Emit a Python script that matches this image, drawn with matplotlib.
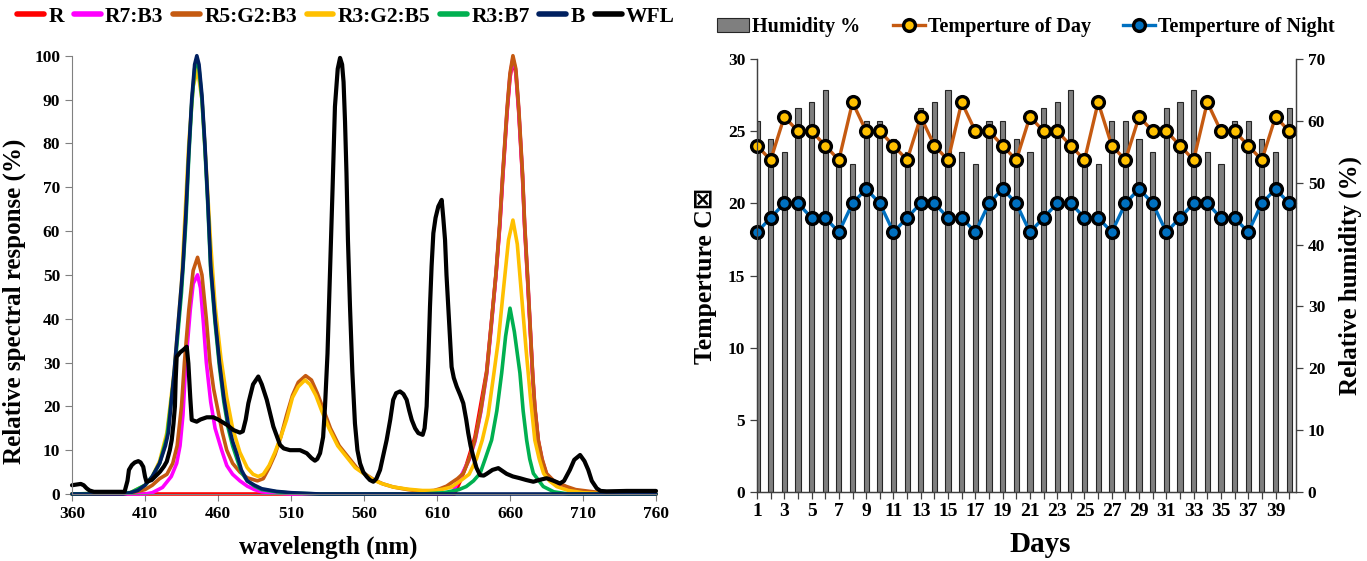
import matplotlib
matplotlib.use("Agg")
import matplotlib.pyplot as plt
from matplotlib.transforms import ScaledTranslation

plt.rcParams['font.family'] = ['Liberation Serif', 'DejaVu Sans']
plt.rcParams['font.weight'] = 'bold'

# ---------------- Left chart: spectra ----------------
wl_R = [360, 622, 626, 630, 636, 644, 650.4, 653, 655, 658, 660, 662, 664, 666, 668.6, 670, 672, 675.5, 677, 679.4, 682, 685, 690, 698.8, 705, 717, 730, 760]
val_R = [0, 0, 3, 6.5, 13, 28, 50, 61, 72, 87, 95, 99, 96, 87, 72, 61, 49, 27, 19.5, 12, 7.5, 4.5, 2.8, 1.5, 0.8, 0.3, 0, 0]

wl_R7B3 = [360, 410, 415, 422, 428, 431.7, 434, 436, 438, 441, 443, 446, 448, 450, 452, 455, 458, 462.5, 466, 470, 475, 480, 485, 490, 500, 510, 620,
           626, 632, 636, 640, 644, 647, 650.4, 653, 655, 658, 660, 662, 664, 666, 668.6, 670, 672, 675.5, 677, 679.4, 682, 685, 690, 700, 720, 760]
val_R7B3 = [0, 0, 0.3, 1.5, 4, 7, 11, 18, 30, 42, 48, 50, 47, 39, 30, 21, 15, 10, 6.5, 4.5, 3, 1.8, 1, 0.5, 0.2, 0, 0,
            3.8, 7.8, 12, 18.7, 27.3, 37.6, 50, 61.5, 72.5, 87.5, 95.5, 99.4, 96.5, 87.5, 72.5, 61.5, 49.6, 27.3, 19.7, 12, 7.8, 4.5, 2.8, 1.1, 0, 0]

wl_R5G2B3 = [360, 400, 410, 415, 420, 425, 429, 432, 435, 437, 440, 443, 446, 449, 452, 454.5, 457, 460, 463, 466, 470, 475, 480, 487, 491, 495, 499, 503, 507, 511, 515, 520, 524, 528, 532, 537, 543, 549, 555, 561, 567, 573, 580, 590, 600,
             608, 612, 616.6, 620, 624, 628, 632, 636, 640, 644, 647, 650.4, 653, 655, 658, 660, 662, 664, 666, 668.6, 670, 672, 675.5, 677, 679.4, 682, 685, 690, 698.8, 705, 717, 730, 760]
val_R5G2B3 = [0, 0.2, 1, 2, 3.5, 4.5, 7, 11, 20, 30, 42, 51, 54, 50, 40, 30, 24, 19, 14, 10, 7, 5, 3.7, 3, 3.5, 6, 9, 13, 18, 22.5, 25.5, 27, 26, 23, 19.5, 15, 11, 8.5, 6, 4.5, 3.2, 2.3, 1.6, 1, 0.6,
              0.8, 1.2, 1.8, 2.6, 3.5, 4.7, 8, 12.3, 19, 27.6, 38, 50.4, 62, 73, 88, 96, 100, 97, 88, 73, 62, 50, 27.6, 20, 12.3, 8, 4.7, 3, 1.7, 1, 0.5, 0, 0]

wl_R3G2B5 = [360, 400, 410, 415, 420, 425, 430, 435, 440, 443, 446, 449, 452, 455, 458, 462, 466, 470, 475, 480, 484, 487.5, 491, 495, 499, 503, 507, 511, 515, 519.6, 523, 527, 531, 536, 542, 548, 554, 560, 566, 572, 580, 590, 600,
             608, 614, 620, 626, 632, 637, 641, 645, 649, 652, 655, 659, 662, 665, 668, 671, 674, 677, 680, 683, 687, 692, 700, 710, 730, 760]
val_R3G2B5 = [0, 0.3, 2, 4, 7.5, 14, 28, 48, 80, 93, 97, 90, 74, 57, 43, 31, 22, 15, 9.5, 6, 4.5, 4, 4.5, 6.5, 9.5, 13, 17, 22, 24.5, 26, 25, 22.5, 19, 15, 11, 8.5, 6, 4.6, 3.3, 2.4, 1.6, 1.1, 0.8,
              0.8, 1.1, 1.6, 3, 4.5, 8, 12.3, 18, 27.6, 35, 45, 58, 62.5, 57, 45, 33, 22, 12.3, 8, 4.7, 3, 1.7, 0.8, 0.3, 0, 0]

wl_R3B7 = [360, 400, 410, 415, 420, 425, 430, 435, 438, 440, 442, 444, 445.5, 447, 449, 451, 453, 455, 458, 461, 464, 467, 470, 473, 476, 480, 485, 490, 500, 510, 530, 600,
           615, 625, 630, 635, 639.5, 643, 647.4, 651, 654.3, 657, 660, 663, 666.8, 669, 671.4, 673.5, 676, 682.8, 690, 700, 760]
val_R3B7 = [0, 0.3, 2, 4, 7, 13, 27, 46, 62, 77, 89, 97, 99, 97, 90, 79, 66, 51, 39, 29, 21, 15, 11, 8, 5, 3, 1.8, 1, 0.5, 0.2, 0, 0,
            0.3, 1, 1.7, 3, 4.7, 8, 12.3, 19, 27.6, 36, 42.4, 37, 27.6, 19, 12.3, 8, 4.7, 1.7, 0.5, 0, 0]

wl_B = [360, 395, 400, 405, 410, 415, 420, 424, 426, 428, 430, 432, 434, 436, 438, 440, 442, 444, 445.5, 447, 449, 451, 453, 455, 458, 461, 464, 467, 470, 473, 476, 480, 485, 490, 500, 510, 530, 760]
val_B = [0, 0, 0.3, 0.8, 2, 4, 7, 11, 14, 21, 28, 36, 44, 52, 64, 78, 90, 98, 100, 98, 91, 80, 67, 52, 40, 30, 22, 16, 12, 9, 5.5, 3, 2, 1.2, 0.6, 0.3, 0, 0]

wl_WFL = [360, 362, 366, 368, 370, 372, 375, 385, 396, 398, 399, 401, 403, 405.4, 407, 408.8, 410, 411, 413, 414.6, 417, 420.3, 423, 424.9, 427, 428.3, 429.5, 430.5, 431, 431.7, 434, 436.3, 438.6, 439.7, 441, 442, 445.4, 448, 452.3, 456.8, 460, 466, 470.5, 475, 477, 479, 480.8, 484, 487.6, 490, 493.4, 497.9, 502.5, 505, 509.3, 516.2, 520.8, 524, 526.4, 528, 529.9, 532, 533.3, 535, 536.7, 538.5, 540.1, 542, 543.6, 545, 546, 547, 548, 549, 550.4, 552, 553.8, 555.5, 557.3, 559.5, 561.8, 564, 566.4, 568.5, 571, 573, 575.5, 578, 580, 582, 584.7, 587, 589.2, 591, 592.7, 595, 597.2, 600.2, 601.5, 602.9, 604, 605.2, 606.3, 607.5, 609, 610.9, 613.2, 614.3, 615.5, 616.5, 617.7, 619, 620, 621.5, 623.5, 626, 628, 630, 631.4, 633, 634.9, 637, 639.5, 642, 644, 648, 652, 655, 657.7, 662, 666.8, 671, 676, 680, 685.1, 690, 694.2, 697, 701, 704, 708, 711, 713.6, 716, 719.4, 722, 726.2, 740, 760]
val_WFL = [2, 2.1, 2.3, 2, 1.3, 0.8, 0.5, 0.5, 0.5, 3, 5.5, 6.6, 7.2, 7.5, 7.2, 6.2, 4, 2.8, 3, 3.2, 4, 5.1, 6.3, 7.4, 10, 12.3, 16, 20, 26, 31.3, 32.3, 32.9, 33.6, 29.8, 22, 16.9, 16.5, 17, 17.5, 17.5, 17, 15.8, 14.6, 14, 14.3, 17, 20.7, 25, 26.8, 25, 21.5, 15.4, 11.2, 10.4, 10, 10, 9.3, 8.2, 7.6, 8, 9.3, 13, 20, 32, 50.4, 70, 88.4, 97, 99.5, 98, 94, 85, 73.2, 58, 42.8, 28, 16.1, 10, 7, 5, 4, 3.2, 2.8, 3.5, 5.5, 8.5, 12.3, 17, 21.5, 23, 23.4, 22.8, 21.5, 19, 16.9, 15, 13.9, 13.5, 15, 20, 30, 42.8, 52, 59.5, 63, 65.6, 67.1, 63, 58, 50, 42.8, 35, 29, 26.5, 24.5, 22.5, 20.7, 17, 13.9, 11, 8.5, 6, 4.3, 4.2, 4.6, 5.5, 5.9, 5.2, 4.6, 4, 3.6, 3.2, 2.8, 3.2, 3.6, 3, 2.4, 3, 5.5, 7.8, 8.9, 7.5, 5.5, 3, 1.3, 0.7, 0.6, 0.7, 0.7]

spec_names = ['R', 'R7:B3', 'R5:G2:B3', 'R3:G2:B5', 'R3:B7', 'B', 'WFL']
spec_colors = ['#FF0000', '#FF00FF', '#C55A11', '#FFC000', '#00B050', '#002060', '#000000']
spec_x = [wl_R, wl_R7B3, wl_R5G2B3, wl_R3G2B5, wl_R3B7, wl_B, wl_WFL]
spec_y = [val_R, val_R7B3, val_R5G2B3, val_R3G2B5, val_R3B7, val_B, val_WFL]
wl_ticks = [360, 410, 460, 510, 560, 610, 660, 710, 760]

# ---------------- Right chart: climate ----------------
days = list(range(1, 41))
humidity = [60, 57, 55, 62, 63, 65, 53, 53, 60, 60, 57, 55, 62, 63, 65, 55, 53, 60, 60, 57,
            55, 62, 63, 65, 53, 53, 60, 60, 57, 55, 62, 63, 65, 55, 53, 60, 60, 57, 55, 62]
temp_day = [24, 23, 26, 25, 25, 24, 23, 27, 25, 25, 24, 23, 26, 24, 23, 27, 25, 25, 24, 23,
            26, 25, 25, 24, 23, 27, 24, 23, 26, 25, 25, 24, 23, 27, 25, 25, 24, 23, 26, 25]
temp_night = [18, 19, 20, 20, 19, 19, 18, 20, 21, 20, 18, 19, 20, 20, 19, 19, 18, 20, 21, 20,
              18, 19, 20, 20, 19, 19, 18, 20, 21, 20, 18, 19, 20, 20, 19, 19, 18, 20, 21, 20]

W, H = 1367, 561
fig = plt.figure(figsize=(W / 100, H / 100), dpi=100)

# ----- left axes -----
axL = fig.add_axes([72 / W, 1 - 494 / H, (656 - 72) / W, (494 - 55.7) / H])
for x, y, c, n in zip(spec_x, spec_y, spec_colors, spec_names):
    axL.plot(x, y, color=c, lw=3.0 if n == 'WFL' else 2.6, label=n,
             solid_joinstyle='round', solid_capstyle='round', clip_on=False)
axL.set_xlim(360, 760)
axL.set_ylim(0, 100)
axL.set_xticks(wl_ticks)
axL.set_yticks(range(0, 101, 10))
for s in ['top', 'right']:
    axL.spines[s].set_visible(False)
for s in ['left', 'bottom']:
    axL.spines[s].set_color('#808080')
    axL.spines[s].set_linewidth(0.8)
axL.tick_params(axis='both', direction='out', length=5, width=0.8, color='#808080',
                labelsize=12.5)
axL.set_ylabel('Relative spectral response (%)', fontsize=18, fontweight='bold')
axL.yaxis.set_label_coords(-0.078, 0.44)
fig.text(328 / W, 1 - 554 / H, 'wavelength (nm)', fontsize=18, fontweight='bold',
         ha='center', va='baseline')
fig.legend(*axL.get_legend_handles_labels(), loc='center', bbox_to_anchor=(346 / W, 1 - 17 / H),
           ncol=7, frameon=False, fontsize=15.5, handlelength=1.25, handletextpad=0.2,
           columnspacing=0.45, borderaxespad=0, borderpad=0)
for ln in fig.legends[0].get_lines():
    ln.set_linewidth(4)

# ----- right axes -----
ax1 = fig.add_axes([757 / W, 1 - 492 / H, (1296 - 757) / W, (492 - 59) / H])
ax2 = ax1.twinx()
ax1.set_zorder(3)
ax2.set_zorder(2)
ax1.patch.set_visible(False)

ax2.bar(days, humidity, width=0.38, color='#7F7F7F', edgecolor='#262626', linewidth=0.8,
        label='Humidity %')
ax1.plot(days, temp_day, color='#C55A11', lw=2.4, marker='o', ms=8.5, mfc='#FFC000',
         mec='black', mew=2.4, label='Temperture of Day', clip_on=False)
ax1.plot(days, temp_night, color='#0070C0', lw=2.4, marker='o', ms=8.5, mfc='#0070C0',
         mec='black', mew=2.4, label='Temperture of Night', clip_on=False)

ax1.set_xlim(1, 40.5)
ax1.set_ylim(0, 30)
ax2.set_ylim(0, 70)
ax1.set_yticks(range(0, 31, 5))
ax2.set_yticks(range(0, 71, 10))
ax1.set_xticks(days)
ax1.set_xticklabels([str(d) if d % 2 == 1 else '' for d in days])
shift = ScaledTranslation(-4 / 100, 0, fig.dpi_scale_trans)
for lab in ax1.get_xticklabels():
    lab.set_transform(lab.get_transform() + shift)
for a in (ax1, ax2):
    a.spines['top'].set_visible(False)
    for s in ['left', 'right', 'bottom']:
        a.spines[s].set_color('#404040')
        a.spines[s].set_linewidth(0.9)
ax1.tick_params(axis='y', direction='out', length=5, width=0.9, color='#404040', labelsize=12.5)
ax1.tick_params(axis='x', direction='out', length=5, width=0.9, color='#404040', labelsize=14, pad=3)
ax2.tick_params(axis='y', direction='out', length=5, width=0.9, color='#404040', labelsize=12.5)
ax1.set_ylabel('Temperture C\u22a0', fontsize=18.5, fontweight='bold', labelpad=8)
ax2.set_ylabel('Relative humidity (%)', fontsize=18, fontweight='bold', labelpad=10)
fig.text(1040 / W, 1 - 552 / H, 'Days', fontsize=21, fontweight='bold', ha='center', va='baseline')

hb, lb = ax2.get_legend_handles_labels()
hl, ll = ax1.get_legend_handles_labels()
fig.legend(hb + hl, lb + ll, loc='center', bbox_to_anchor=(1026 / W, 1 - 27 / H), ncol=3,
           frameon=False, fontsize=14.5, handlelength=1.6, handletextpad=0.15,
           columnspacing=1.6, borderaxespad=0, borderpad=0)

fig.savefig('out.png', dpi=100)
